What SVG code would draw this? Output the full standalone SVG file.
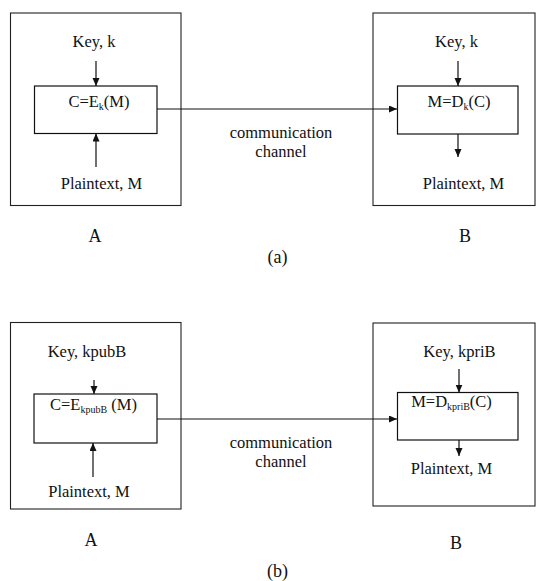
<svg xmlns="http://www.w3.org/2000/svg" width="536" height="581" viewBox="0 0 536 581">
<style>
.box{fill:none;stroke:#111;stroke-width:1.2}
.outer{fill:none;stroke:#222;stroke-width:1.1}
.t{font-family:"Liberation Serif","Times New Roman",serif;font-size:16.5px;fill:#111;text-anchor:middle}
.lbl{font-family:"Liberation Serif","Times New Roman",serif;font-size:18px;fill:#111;text-anchor:middle}
.sub{font-size:10px}
.c{fill:none;stroke:#111;stroke-width:1.2}
</style>
<defs>
<marker id="ah" markerWidth="9" markerHeight="8" refX="8" refY="3.5" orient="auto" markerUnits="userSpaceOnUse">
<path d="M0,0 L8,3.5 L0,7 z" fill="#111"/>
</marker>
</defs>
<rect width="536" height="581" fill="#fff"/>

<!-- Panel (a) -->
<g id="a-A">
<rect class="outer" x="10.5" y="13" width="170.5" height="192.5"/>
<text class="lbl" x="95" y="242">A</text>
</g>
<g id="a-keyA"><text class="t" x="94" y="47">Key, k</text></g>
<g id="a-enc">
<rect class="box" x="34.5" y="86" width="122.5" height="47.5"/>
<text class="t" x="99" y="107">C=E<tspan class="sub" dy="3">k</tspan><tspan dy="-3">(M)</tspan></text>
</g>
<g id="a-ptA"><text class="t" x="101.5" y="189">Plaintext, M</text></g>

<g id="a-B">
<rect class="outer" x="373" y="13" width="162" height="192.5"/>
<text class="lbl" x="465" y="242">B</text>
</g>
<g id="a-keyB"><text class="t" x="456.5" y="47">Key, k</text></g>
<g id="a-dec">
<rect class="box" x="397.5" y="86" width="120.5" height="48"/>
<text class="t" x="459" y="107">M=D<tspan class="sub" dy="3">k</tspan><tspan dy="-3">(C)</tspan></text>
</g>
<g id="a-ptB"><text class="t" x="463.5" y="189">Plaintext, M</text></g>

<g id="a-channel">
<text class="t" x="281" y="138">communication</text>
<text class="t" x="281" y="157">channel</text>
</g>
<g id="a-caption"><text class="lbl" x="277.5" y="263">(a)</text></g>

<!-- Panel (b) -->
<g id="b-A">
<rect class="outer" x="10.5" y="322.5" width="170.5" height="186.5"/>
<text class="lbl" x="91" y="546">A</text>
</g>
<g id="b-keyA"><text class="t" x="87" y="357">Key, kpubB</text></g>
<g id="b-enc">
<rect class="box" x="34" y="394" width="123" height="49"/>
<text class="t" x="93.5" y="410">C=E<tspan class="sub" dy="3">kpubB</tspan><tspan dy="-3"> (M)</tspan></text>
</g>
<g id="b-ptA"><text class="t" x="89" y="497">Plaintext, M</text></g>

<g id="b-B">
<rect class="outer" x="373" y="323" width="162" height="183"/>
<text class="lbl" x="456" y="549">B</text>
</g>
<g id="b-keyB"><text class="t" x="459.5" y="357">Key, kpriB</text></g>
<g id="b-dec">
<rect class="box" x="397.5" y="392.5" width="120.5" height="47.5"/>
<text class="t" x="451.5" y="407">M=D<tspan class="sub" dy="3">kpriB</tspan><tspan dy="-3">(C)</tspan></text>
</g>
<g id="b-ptB"><text class="t" x="451.5" y="474">Plaintext, M</text></g>

<g id="b-channel">
<text class="t" x="281" y="448">communication</text>
<text class="t" x="281" y="467">channel</text>
</g>
<g id="b-caption"><text class="lbl" x="277.5" y="577">(b)</text></g>

<!-- Connectors -->
<g id="connectors">
<line class="c" x1="96" y1="61" x2="96" y2="86" marker-end="url(#ah)"/>
<line class="c" x1="96" y1="167" x2="96" y2="133.5" marker-end="url(#ah)"/>
<line class="c" x1="157" y1="109" x2="397" y2="109" marker-end="url(#ah)"/>
<line class="c" x1="458" y1="61" x2="458" y2="86" marker-end="url(#ah)"/>
<line class="c" x1="458" y1="134" x2="458" y2="157" marker-end="url(#ah)"/>

<line class="c" x1="94" y1="380" x2="94" y2="394" marker-end="url(#ah)"/>
<line class="c" x1="93" y1="477" x2="93" y2="443" marker-end="url(#ah)"/>
<line class="c" x1="157" y1="419" x2="397" y2="419" marker-end="url(#ah)"/>
<line class="c" x1="459" y1="369" x2="459" y2="392.5" marker-end="url(#ah)"/>
<line class="c" x1="459" y1="440" x2="459" y2="456" marker-end="url(#ah)"/>
</g>
</svg>
